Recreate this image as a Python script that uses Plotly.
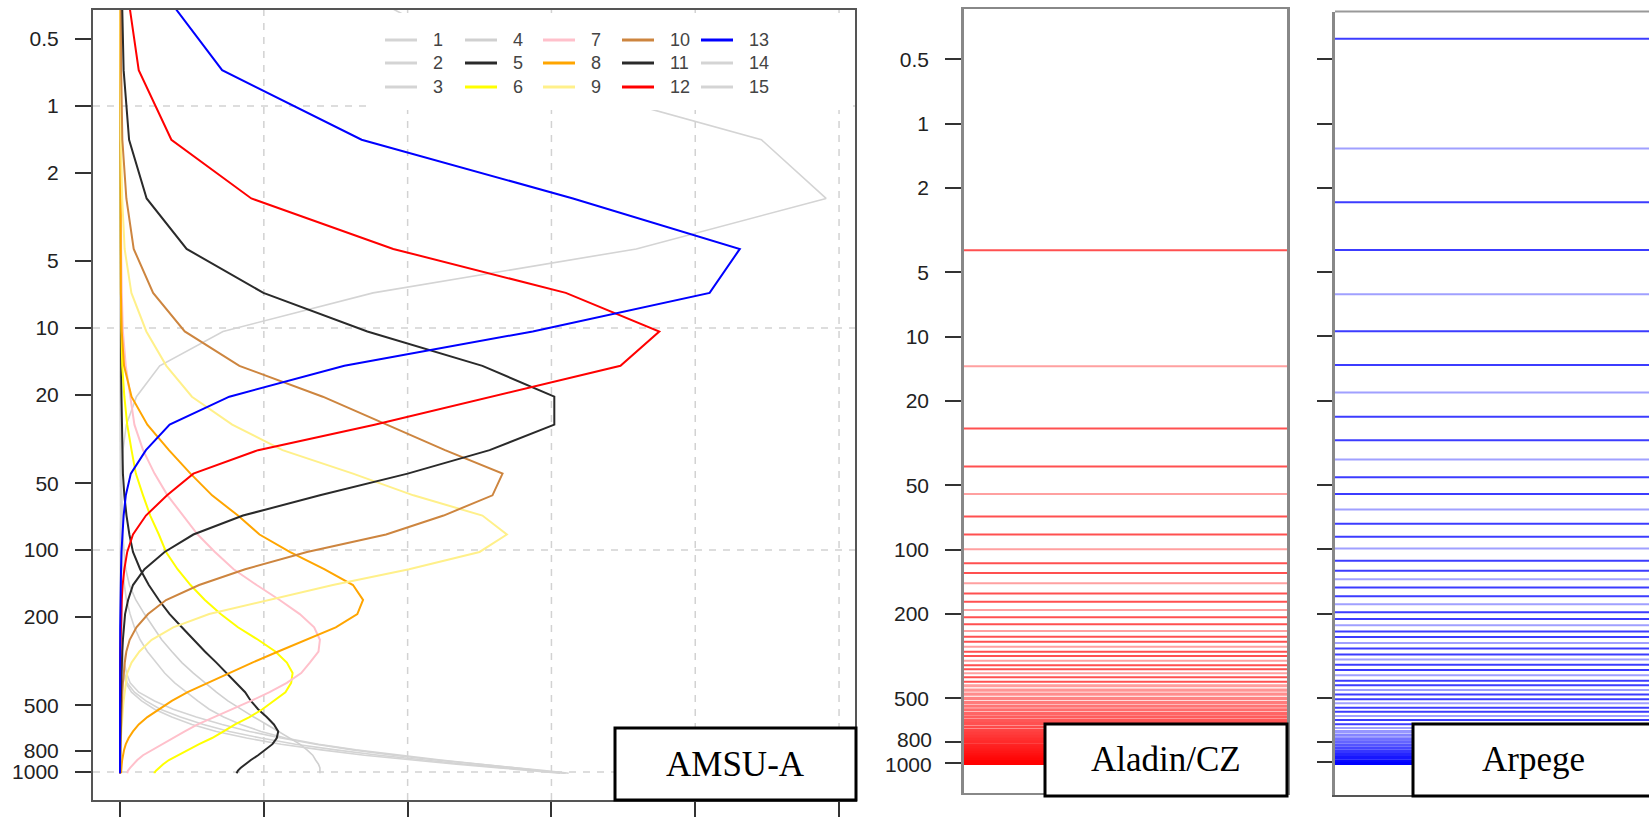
import math
import plotly.graph_objects as go

# ------------------------------------------------------------------ data
PRESSURE_HPA = [0.10, 0.29, 0.69, 1.42, 2.611, 4.407, 6.95, 10.37, 14.81, 20.40,
                27.26, 35.51, 45.29, 56.73, 69.97, 85.18, 102.05, 122.04, 143.84, 167.95,
                194.36, 222.94, 253.71, 286.60, 321.50, 358.28, 396.81, 436.95, 478.54, 521.46,
                565.54, 610.60, 656.43, 702.73, 749.12, 795.09, 839.95, 882.80, 922.46, 957.44,
                985.88, 1005.43, 1013.25]

CH01 = [0, 0, 0, 0, 0, 0, 0, 0, 0, 0,
        0.001, 0.001, 0.002, 0.002, 0.003, 0.004, 0.005, 0.006, 0.008, 0.009,
        0.010, 0.012, 0.015, 0.018, 0.022, 0.030, 0.050, 0.10, 0.18, 0.28,
        0.42, 0.58, 0.76, 0.98, 1.22, 1.50, 1.80, 2.10, 2.40, 2.68, 2.90, 3.05, 3.10]
CH02 = [0, 0, 0, 0, 0, 0, 0, 0, 0, 0,
        0.001, 0.001, 0.002, 0.002, 0.003, 0.004, 0.005, 0.006, 0.008, 0.010,
        0.012, 0.015, 0.018, 0.022, 0.030, 0.045, 0.070, 0.13, 0.24, 0.37,
        0.53, 0.71, 0.90, 1.12, 1.36, 1.62, 1.90, 2.20, 2.48, 2.74, 2.95, 3.08, 3.12]
CH03 = [0, 0, 0, 0, 0, 0, 0, 0, 0.001, 0.001,
        0.002, 0.003, 0.004, 0.006, 0.008, 0.011, 0.015, 0.020, 0.030, 0.045,
        0.07, 0.10, 0.14, 0.19, 0.25, 0.31, 0.38, 0.46, 0.54, 0.62,
        0.72, 0.84, 0.98, 1.15, 1.38, 1.64, 1.93, 2.23, 2.51, 2.76, 2.95, 3.06, 3.09]
CH04 = [0, 0, 0, 0, 0, 0, 0, 0.001, 0.002, 0.003,
        0.004, 0.005, 0.007, 0.010, 0.014, 0.020, 0.028, 0.040, 0.065, 0.11,
        0.17, 0.23, 0.29, 0.36, 0.43, 0.51, 0.59, 0.67, 0.75, 0.84,
        0.93, 1.02, 1.10, 1.18, 1.25, 1.30, 1.34, 1.36, 1.38, 1.39, 1.39, 1.39, 1.39]
CH05 = [0, 0.001, 0.001, 0.002, 0.003, 0.004, 0.005, 0.006, 0.008, 0.010,
        0.012, 0.015, 0.020, 0.030, 0.045, 0.065, 0.09, 0.14, 0.20, 0.27,
        0.345, 0.43, 0.51, 0.59, 0.67, 0.74, 0.81, 0.87, 0.91, 0.96,
        1.02, 1.07, 1.10, 1.09, 1.06, 1.01, 0.96, 0.91, 0.87, 0.84, 0.82, 0.81, 0.81]
CH06 = [0, 0.001, 0.001, 0.002, 0.003, 0.004, 0.006, 0.010, 0.015, 0.03,
        0.05, 0.08, 0.11, 0.16, 0.21, 0.27, 0.32, 0.40, 0.49, 0.59,
        0.70, 0.82, 0.96, 1.08, 1.16, 1.20, 1.19, 1.15, 1.07, 0.99,
        0.90, 0.80, 0.72, 0.64, 0.55, 0.47, 0.40, 0.34, 0.30, 0.27, 0.25, 0.24, 0.24]
CH07 = [0, 0.001, 0.002, 0.003, 0.005, 0.008, 0.012, 0.020, 0.040, 0.07,
        0.10, 0.16, 0.24, 0.33, 0.44, 0.54, 0.66, 0.79, 0.95, 1.11,
        1.25, 1.35, 1.39, 1.38, 1.32, 1.26, 1.16, 1.04, 0.91, 0.78,
        0.65, 0.54, 0.45, 0.37, 0.29, 0.22, 0.16, 0.12, 0.09, 0.07, 0.055, 0.05, 0.05]
CH08 = [0, 0.001, 0.001, 0.002, 0.003, 0.004, 0.006, 0.012, 0.028, 0.08,
        0.19, 0.34, 0.49, 0.64, 0.82, 0.97, 1.18, 1.42, 1.62, 1.69,
        1.65, 1.50, 1.30, 1.10, 0.92, 0.76, 0.61, 0.47, 0.36, 0.27,
        0.19, 0.13, 0.09, 0.06, 0.04, 0.028, 0.020, 0.015, 0.012, 0.010, 0.008, 0.007, 0.007]
CH09 = [0.001, 0.002, 0.003, 0.006, 0.015, 0.032, 0.079, 0.183, 0.322, 0.50,
        0.78, 1.13, 1.62, 2.04, 2.52, 2.69, 2.50, 2.01, 1.48, 1.04,
        0.62, 0.37, 0.22, 0.135, 0.08, 0.05, 0.04, 0.032, 0.025, 0.02,
        0.015, 0.010, 0.008, 0.006, 0.005, 0.004, 0.003, 0.002, 0.002, 0.001, 0.001, 0, 0]
CH10 = [0.003, 0.005, 0.008, 0.016, 0.044, 0.095, 0.23, 0.45, 0.83, 1.41,
        1.85, 2.26, 2.66, 2.59, 2.25, 1.85, 1.30, 0.87, 0.55, 0.32,
        0.195, 0.114, 0.067, 0.044, 0.033, 0.025, 0.020, 0.016, 0.013, 0.010,
        0.008, 0.006, 0.005, 0.004, 0.003, 0.002, 0.002, 0.001, 0.001, 0, 0, 0, 0]
CH11 = [0.005, 0.012, 0.025, 0.063, 0.185, 0.463, 0.997, 1.72, 2.52, 3.02,
        3.02, 2.57, 2.00, 1.39, 0.855, 0.51, 0.31, 0.17, 0.09, 0.056,
        0.035, 0.026, 0.020, 0.015, 0.012, 0.010, 0.008, 0.006, 0.005, 0.004,
        0.003, 0.002, 0.002, 0.001, 0.001, 0, 0, 0, 0, 0, 0, 0, 0]
CH12 = [0.02, 0.046, 0.13, 0.357, 0.913, 1.90, 3.10, 3.75, 3.48, 2.58,
        1.77, 0.96, 0.51, 0.327, 0.18, 0.09, 0.05, 0.03, 0.018, 0.012,
        0.008, 0.005, 0.003, 0.002, 0.001, 0, 0, 0, 0, 0,
        0, 0, 0, 0, 0, 0, 0, 0, 0, 0, 0, 0, 0]
CH13 = [0.08, 0.27, 0.71, 1.68, 3.15, 4.31, 4.10, 2.87, 1.56, 0.76,
        0.345, 0.18, 0.075, 0.04, 0.025, 0.015, 0.010, 0.007, 0.004, 0.003,
        0.002, 0.001, 0.001, 0, 0, 0, 0, 0, 0, 0,
        0, 0, 0, 0, 0, 0, 0, 0, 0, 0, 0, 0, 0]
CH14 = [0.6, 1.6, 2.71, 4.46, 4.91, 3.59, 1.76, 0.716, 0.276, 0.114,
        0.044, 0.020, 0.010, 0.006, 0.004, 0.003, 0.002, 0.001, 0.001, 0,
        0, 0, 0, 0, 0, 0, 0, 0, 0, 0,
        0, 0, 0, 0, 0, 0, 0, 0, 0, 0, 0, 0, 0]
CH15 = [0, 0, 0, 0, 0, 0, 0, 0, 0, 0,
        0.001, 0.001, 0.001, 0.002, 0.003, 0.003, 0.004, 0.005, 0.006, 0.007,
        0.008, 0.010, 0.012, 0.015, 0.018, 0.024, 0.040, 0.08, 0.15, 0.24,
        0.36, 0.50, 0.67, 0.88, 1.12, 1.40, 1.70, 2.02, 2.34, 2.64, 2.88, 3.02, 3.06]

CHANNEL_NAMES = ["1", "2", "3", "4", "5", "6", "7", "8", "9", "10", "11", "12", "13", "14", "15"]

ALADIN_LEVELS_HPA = [3.93, 13.8, 27.0, 40.7, 54.9, 70.0, 85.0, 99.8, 116, 129,
                     144, 161, 176, 192, 208, 224, 241, 257, 271, 286,
                     302, 316, 333, 349, 365, 381, 398, 418, 436, 457,
                     477, 500, 522, 543, 565, 588, 611, 634, 657, 681,
                     706, 729, 754, 779, 801, 825, 849, 874, 896, 919,
                     942, 966, 991, 1010]

ARPEGE_LEVELS_HPA = [0.40, 1.31, 2.34, 3.93, 6.34, 9.46, 13.6, 18.3, 23.8, 30.7,
                     37.8, 45.8, 54.9, 65.0, 75.7, 87.1, 99.1, 113, 126, 138,
                     151, 166, 181, 197, 212, 227, 243, 258, 275, 292,
                     311, 329, 348, 368, 390, 413, 434, 457, 480, 505,
                     528, 553, 578, 605, 633, 662, 689, 716, 745, 775,
                     801, 829, 858, 887, 918, 949, 982, 1010]

Y_TICK_VALUES = [0.5, 1, 2, 5, 10, 20, 50, 100, 200, 500, 800, 1000]
Y_TICK_LABELS = ["0.5", "1", "2", "5", "10", "20", "50", "100", "200", "500", "800", "1000"]
X_TICK_VALUES = [0, 1, 2, 3, 4, 5]
GRID_PRESSURES = [1, 10, 100, 1000]
PANEL_LABELS = ["AMSU-A", "Aladin/CZ", "Arpege"]

# ------------------------------------------------------------------ styling
W, H = 1649, 817


def px(x):
    return x / W


def py(y):
    return 1 - y / H


CHANNEL_VALUES = [CH01, CH02, CH03, CH04, CH05, CH06, CH07, CH08, CH09, CH10,
                  CH11, CH12, CH13, CH14, CH15]
CH_COLORS = ["#d4d4d4", "#d4d4d4", "#d4d4d4", "#d0d0d0", "#2a2a2a", "#ffff00", "#ffc0cb",
             "#ffa500", "#fff08a", "#cd853f", "#2a2a2a", "#ff0000", "#0000ff", "#d4d4d4",
             "#d4d4d4"]
CH_WIDTHS = [1.6, 1.6, 1.6, 1.6, 2, 2, 2, 2, 2, 2, 2, 2, 2, 1.6, 1.6]
DRAW_ORDER = [0, 1, 2, 3, 14, 13, 4, 5, 6, 7, 8, 9, 10, 11, 12]

TICK_FONT = "Liberation Sans Narrow, Arial Narrow, Liberation Sans, Arial, sans-serif"
SERIF = "Liberation Serif, Times New Roman, serif"
MID_FONT_SIZE = 21

fig = go.Figure()

for i in DRAW_ORDER:
    fig.add_trace(go.Scatter(
        x=CHANNEL_VALUES[i], y=PRESSURE_HPA, mode="lines",
        line=dict(color=CH_COLORS[i], width=CH_WIDTHS[i]),
        name=CHANNEL_NAMES[i], showlegend=False, hoverinfo="skip",
        xaxis="x", yaxis="y"))


def level_color(rgb_dark, rgb_light, idx, p, dense_from, dense_to, rgb_full):
    if p >= dense_from:
        t = min(1.0, max(0.0, (math.log10(p) - math.log10(dense_from)) /
                         (math.log10(dense_to) - math.log10(dense_from))))
        c = [int(round(a + (b - a) * t)) for a, b in zip(rgb_light, rgb_full)]
        return "rgb(%d,%d,%d)" % tuple(c), 3.2
    c = rgb_dark if idx % 3 != 1 else rgb_light
    return "rgb(%d,%d,%d)" % tuple(c), 2


for k, p in enumerate(ALADIN_LEVELS_HPA):
    col, wd = level_color((255, 80, 80), (255, 160, 160), k, p, 430, 1000, (255, 0, 0))
    fig.add_trace(go.Scatter(x=[0, 1], y=[p, p], mode="lines",
                             line=dict(color=col, width=wd), showlegend=False,
                             hoverinfo="skip", xaxis="x2", yaxis="y2"))

for k, p in enumerate(ARPEGE_LEVELS_HPA):
    col, wd = level_color((60, 60, 255), (160, 160, 255), k, p, 700, 1000, (0, 0, 255))
    fig.add_trace(go.Scatter(x=[0, 1], y=[p, p], mode="lines",
                             line=dict(color=col, width=wd), showlegend=False,
                             hoverinfo="skip", xaxis="x3", yaxis="y3"))

shapes = []
# dashed grid of the left panel
for p in GRID_PRESSURES:
    shapes.append(dict(type="line", xref="x domain", yref="y", x0=0, x1=1,
                       y0=p, y1=p, layer="below",
                       line=dict(color="#d2d2d2", width=1.5, dash="7px,7px")))
for xv in X_TICK_VALUES[1:]:
    shapes.append(dict(type="line", xref="x", yref="y domain", x0=xv, x1=xv, y0=0, y1=1,
                       layer="below", line=dict(color="#d2d2d2", width=1.5, dash="7px,7px")))

# legend (drawn by hand: 3 rows x 5 columns)
shapes.append(dict(type="rect", xref="paper", yref="paper", x0=px(371), x1=px(853),
                   y0=py(110), y1=py(13), fillcolor="white", line=dict(width=0),
                   layer="above"))
LEG_X0 = [385, 465, 543, 622, 701]
LEG_Y = [40, 63, 87]
annotations = []
for i, name in enumerate(CHANNEL_NAMES):
    c, r = i // 3, i % 3
    x0 = LEG_X0[c]
    shapes.append(dict(type="line", xref="paper", yref="paper", x0=px(x0), x1=px(x0 + 32),
                       y0=py(LEG_Y[r]), y1=py(LEG_Y[r]), layer="above",
                       line=dict(color=CH_COLORS[i], width=3)))
    annotations.append(dict(x=px(x0 + 46), y=py(LEG_Y[r]), xref="paper", yref="paper",
                            text=name, showarrow=False, xanchor="left", yanchor="middle",
                            font=dict(family=TICK_FONT, size=18, color="#444")))

# label boxes
BOXES = [(615, 856, 728, 800, 735, 764), (1045, 1287, 724, 796, 1166, 759),
         (1413, 1680, 724, 796, 1533, 759)]
for (bx0, bx1, by0, by1, tx, ty), lab in zip(BOXES, PANEL_LABELS):
    shapes.append(dict(type="rect", xref="paper", yref="paper", x0=px(bx0), x1=px(bx1),
                       y0=py(by1), y1=py(by0), fillcolor="white",
                       line=dict(color="black", width=3), layer="above"))
    annotations.append(dict(x=px(tx), y=py(ty), xref="paper", yref="paper", text=lab,
                            showarrow=False, xanchor="center", yanchor="middle",
                            font=dict(family=SERIF, size=35, color="black")))

# middle panel: the two crowded bottom tick labels are set slightly apart
MID_TOP, MID_BOT, MID_R0, MID_R1 = 9.4, 793, 3.143, -0.536
mid_ticktext = [t if v < 800 else "" for v, t in zip(Y_TICK_VALUES, Y_TICK_LABELS)]
for v, t, nudge in [(800, "800", -2.0), (1000, "1000", 2.0)]:
    fy = MID_TOP + (MID_R0 - math.log10(v)) / (MID_R0 - MID_R1) * 0  # placeholder
    fy = MID_BOT - (math.log10(v) - MID_R1) / (MID_R0 - MID_R1) * (MID_BOT - MID_TOP)
    fy = MID_TOP + (math.log10(v) - MID_R1) / (MID_R0 - MID_R1) * (MID_BOT - MID_TOP)
    annotations.append(dict(x=px(934), y=py(fy + nudge), xref="paper", yref="paper",
                            text=t, showarrow=False, xanchor="right", yanchor="middle",
                            font=dict(family=TICK_FONT, size=MID_FONT_SIZE, color="#222")))

# top frame line of the Arpege panel
shapes.append(dict(type="line", xref="paper", yref="paper", x0=px(1335), x1=1.0,
                   y0=py(11.5), y1=py(11.5), line=dict(color="#999", width=2)))

fig.update_layout(
    width=W, height=H, margin=dict(l=0, r=0, t=0, b=0),
    paper_bgcolor="white", plot_bgcolor="white", showlegend=False,
    shapes=shapes, annotations=annotations,
    xaxis=dict(domain=[px(93), px(855)], range=[-0.188, 5.111], tickvals=X_TICK_VALUES,
               showticklabels=False, ticks="outside", ticklen=17, tickwidth=2,
               tickcolor="#333", showgrid=False, zeroline=False, showline=True,
               linecolor="#555", linewidth=2, mirror=True),
    yaxis=dict(domain=[py(800), py(10)], type="log", range=[3.126, -0.432],
               tickvals=Y_TICK_VALUES, ticktext=Y_TICK_LABELS, ticks="outside",
               ticklen=16, tickwidth=2, tickcolor="#333", showgrid=False, zeroline=False,
               showline=True, linecolor="#555", linewidth=2, mirror=True,
               ticklabelstandoff=12,
               tickfont=dict(family=TICK_FONT, size=21, color="#222")),
    xaxis2=dict(domain=[px(964), px(1287)], range=[0, 1], showticklabels=False, ticks="",
                showgrid=False, zeroline=False, showline=True, linecolor="#888",
                linewidth=2, mirror=True, anchor="y2"),
    yaxis2=dict(domain=[py(MID_BOT), py(MID_TOP)], type="log", range=[MID_R0, MID_R1],
                tickvals=Y_TICK_VALUES, ticktext=mid_ticktext, ticks="outside",
                ticklen=16, tickwidth=2, tickcolor="#333", showgrid=False, zeroline=False,
                showline=True, linecolor="#888", linewidth=2.5, mirror=True,
                ticklabelstandoff=12, anchor="x2",
                tickfont=dict(family=TICK_FONT, size=MID_FONT_SIZE, color="#222")),
    xaxis3=dict(domain=[px(1335), 1.0], range=[0, 1], showticklabels=False, ticks="",
                showgrid=False, zeroline=False, showline=True, linecolor="#555",
                linewidth=2, anchor="y3"),
    yaxis3=dict(domain=[py(795), py(11.5)], type="log", range=[3.153, -0.526],
                tickvals=Y_TICK_VALUES, showticklabels=False, ticks="outside",
                ticklen=15, tickwidth=2, tickcolor="#333", showgrid=False, zeroline=False,
                showline=True, linecolor="#888", linewidth=2.5, anchor="x3"),
)

fig.write_html("out.html", config={"displayModeBar": False},
               post_script="document.body.style.margin='0px';")
